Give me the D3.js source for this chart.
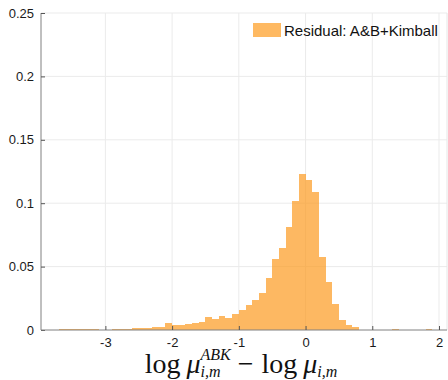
<!DOCTYPE html>
<html>
<head>
<meta charset="utf-8">
<script src="https://cdn.jsdelivr.net/npm/d3@7"></script>
<style>
body { margin: 0; background: #fff; }
text { font-family: "Liberation Sans", Arial, sans-serif; }
</style>
</head>
<body>
<div id="chart"></div>
<script>
var width = 448;
var height = 380;

// histogram bins (left edges) and normalised counts
var binWidth = 0.1
var binStarts = [-3.8, -3.7, -3.6, -3.5, -3.4, -3.3, -3.2, -3.1, -3.0, -2.9,
  -2.8, -2.7, -2.6, -2.5, -2.4, -2.3, -2.2, -2.1, -2.0, -1.9,
  -1.8, -1.7, -1.6, -1.5, -1.4, -1.3, -1.2, -1.1, -1.0, -0.9,
  -0.8, -0.7, -0.6, -0.5, -0.4, -0.3, -0.2, -0.1, 0.0, 0.1,
  0.2, 0.3, 0.4, 0.5, 0.6, 0.7, 1.3, 1.8]
var binValues = [0.0003, 0.0008, 0.0006, 0.0004, 0.0008, 0.0005, 0.0004, 0.0003, 0.0003, 0.0006,
  0.0008, 0.0011, 0.0014, 0.0016, 0.0019, 0.0026, 0.0027, 0.0057, 0.0040, 0.0043,
  0.0046, 0.0052, 0.0060, 0.0100, 0.0087, 0.0113, 0.0095, 0.0130, 0.0157, 0.0195,
  0.0238, 0.0293, 0.0413, 0.0556, 0.0645, 0.0816, 0.1020, 0.1233, 0.1185, 0.1090,
  0.0579, 0.0379, 0.0203, 0.0082, 0.0038, 0.0022, 0.0007, 0.0007]

var xTicks = [-3, -2, -1, 0, 1, 2]
var yTicks = [0, 0.05, 0.1, 0.15, 0.2, 0.25]
var legendLabel = "Residual: A&B+Kimball"

var svg = d3.select("#chart").append("svg")
  .attr("width", width)
  .attr("height", height)

var x = d3.scaleLinear().domain([-3.965, 2.12]).range([41, 447])
var y = d3.scaleLinear().domain([0, 0.25]).range([330, 13])

// grid
svg.append("g").selectAll("line").data(yTicks.slice(1))
  .enter().append("line")
  .attr("x1", 41).attr("x2", 447)
  .attr("y1", d => y(d)).attr("y2", d => y(d))
  .attr("stroke", "#ebebeb")
svg.append("g").selectAll("line").data(xTicks)
  .enter().append("line")
  .attr("x1", d => x(d)).attr("x2", d => x(d))
  .attr("y1", 13).attr("y2", 330)
  .attr("stroke", "#ebebeb")
svg.append("line")
  .attr("x1", 447).attr("x2", 447).attr("y1", 13).attr("y2", 330)
  .attr("stroke", "#e6e6e6")

// bars
svg.append("g")
  .attr("opacity", 0.7)
  .selectAll("rect").data(binStarts)
  .enter().append("rect")
  .attr("x", d => x(d))
  .attr("width", d => x(d + binWidth) - x(d))
  .attr("y", (d, i) => y(binValues[i]))
  .attr("height", (d, i) => y(0) - y(binValues[i]))
  .attr("fill", "rgb(253,155,32)")
  .attr("shape-rendering", "crispEdges")

// axes
var yAxis = d3.axisLeft(y).tickValues(yTicks).tickSize(-4).tickPadding(7)
  .tickFormat(d => d === 0 ? "0" : String(+d.toFixed(2)))
var gy = svg.append("g").attr("transform", "translate(41,0)").call(yAxis)

var xAxis = d3.axisBottom(x).tickValues(xTicks).tickSize(-4).tickPadding(8)
  .tickFormat(d => String(d))
var gx = svg.append("g").attr("transform", "translate(0,330)").call(xAxis)

;[gx, gy].forEach(g => {
  g.select(".domain").attr("stroke", "#808080")
  g.selectAll(".tick line").attr("stroke", "#555")
  g.selectAll(".tick text").attr("fill", "#1a1a1a")
    .style("font-size", "13px")
    .style("font-family", "'Liberation Sans', Arial, sans-serif")
})
gy.select(".domain").attr("d", "M0,13V330")
gx.select(".domain").attr("d", "M41,0H447")

// legend
svg.append("rect")
  .attr("x", 253).attr("y", 23).attr("width", 28).attr("height", 14)
  .attr("fill", "rgb(253,155,32)").attr("fill-opacity", 0.7)
svg.append("text")
  .attr("x", 284).attr("y", 36)
  .style("font-size", "15px")
  .attr("fill", "#111")
  .text(legendLabel)

// x label: log mu_{i,m}^{ABK} - log mu_{i,m}
var lab = svg.append("g")
var cx = 0
var base = 373
function piece(txt, size, italic, dy) {
  var t = lab.append("text")
    .attr("x", cx).attr("y", base + (dy || 0))
    .style("font-family", "'Liberation Serif', 'Times New Roman', serif")
    .style("font-size", size + "px")
    .style("font-style", italic ? "italic" : "normal")
    .attr("fill", "#111")
    .text(txt)
  return t.node().getComputedTextLength()
}
cx += piece("log", 28)
cx += 6
cx += piece("\u03bc", 28, true)
var w1 = piece("ABK", 16, true, -13)
var w2 = piece("i,m", 16, true, 4)
cx += Math.max(w1, w2) + 7
cx += piece("\u2212", 28)
cx += 8
cx += piece("log", 28)
cx += 6
cx += piece("\u03bc", 28, true)
cx += piece("i,m", 16, true, 4)
lab.attr("transform", "translate(" + (241 - cx / 2) + ",0)")
</script>
</body>
</html>
